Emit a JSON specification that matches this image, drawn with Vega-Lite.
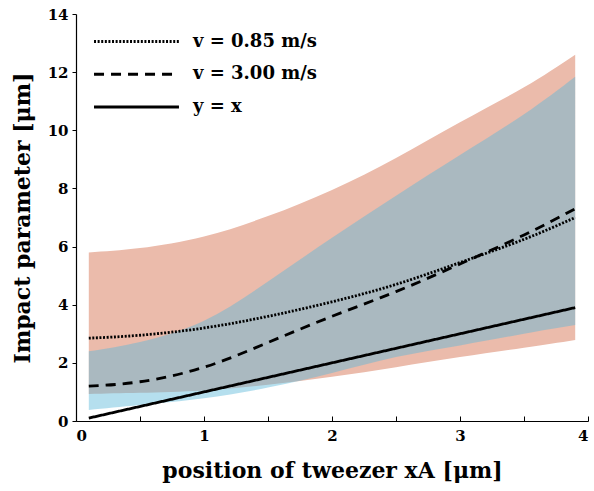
{
  "$schema": "https://vega.github.io/schema/vega-lite/v6.json",
  "width": 512,
  "height": 407,
  "autosize": {"type": "none"},
  "padding": {"left": 76, "top": 14, "right": 6, "bottom": 70},
  "background": "white",
  "config": {
    "view": {"stroke": null},
    "font": "DejaVu Serif",
    "axis": {
      "grid": false,
      "domainColor": "black",
      "domainWidth": 1.2,
      "tickColor": "black",
      "tickWidth": 1,
      "labelFont": "DejaVu Serif",
      "labelFontWeight": "bold",
      "labelFontSize": 15,
      "labelColor": "black",
      "titleFont": "DejaVu Serif",
      "titleFontWeight": "bold",
      "titleFontSize": 22,
      "titleColor": "black"
    },
    "legend": {
      "orient": "none",
      "legendX": 48,
      "legendY": 15,
      "padding": 0,
      "symbolType": "M-4,0L4,0",
      "symbolSize": 451,
      "symbolStrokeWidth": 2.8,
      "symbolStrokeColor": "black",
      "labelFont": "DejaVu Serif",
      "labelFontWeight": "bold",
      "labelFontSize": 18,
      "labelColor": "black",
      "labelOffset": 44,
      "rowPadding": 10.75,
      "labelLimit": 300
    }
  },
  "datasets": {
    "bands": [
      {"band": "v = 0.85 m/s", "x": 0.1, "lo": 0.93, "hi": 5.8},
      {"band": "v = 0.85 m/s", "x": 0.5, "lo": 0.97, "hi": 5.95},
      {"band": "v = 0.85 m/s", "x": 1.0, "lo": 1.05, "hi": 6.35},
      {"band": "v = 0.85 m/s", "x": 1.5, "lo": 1.25, "hi": 7.05},
      {"band": "v = 0.85 m/s", "x": 2.0, "lo": 1.52, "hi": 7.95},
      {"band": "v = 0.85 m/s", "x": 2.5, "lo": 1.85, "hi": 9.05},
      {"band": "v = 0.85 m/s", "x": 3.0, "lo": 2.2, "hi": 10.28},
      {"band": "v = 0.85 m/s", "x": 3.5, "lo": 2.52, "hi": 11.48},
      {"band": "v = 0.85 m/s", "x": 3.9, "lo": 2.79, "hi": 12.6},
      {"band": "v = 3.00 m/s", "x": 0.1, "lo": 0.38, "hi": 2.4},
      {"band": "v = 3.00 m/s", "x": 0.5, "lo": 0.55, "hi": 2.72},
      {"band": "v = 3.00 m/s", "x": 1.0, "lo": 0.78, "hi": 3.45},
      {"band": "v = 3.00 m/s", "x": 1.5, "lo": 1.15, "hi": 4.8},
      {"band": "v = 3.00 m/s", "x": 2.0, "lo": 1.65, "hi": 6.3},
      {"band": "v = 3.00 m/s", "x": 2.5, "lo": 2.2, "hi": 7.75},
      {"band": "v = 3.00 m/s", "x": 3.0, "lo": 2.6, "hi": 9.15},
      {"band": "v = 3.00 m/s", "x": 3.5, "lo": 3.0, "hi": 10.55},
      {"band": "v = 3.00 m/s", "x": 3.9, "lo": 3.3, "hi": 11.84}
    ],
    "lines": [
      {"series": "v = 0.85 m/s", "x": 0.1, "y": 2.85},
      {"series": "v = 0.85 m/s", "x": 0.5, "y": 2.95},
      {"series": "v = 0.85 m/s", "x": 1.0, "y": 3.2},
      {"series": "v = 0.85 m/s", "x": 1.5, "y": 3.6},
      {"series": "v = 0.85 m/s", "x": 2.0, "y": 4.1},
      {"series": "v = 0.85 m/s", "x": 2.5, "y": 4.7},
      {"series": "v = 0.85 m/s", "x": 3.0, "y": 5.45},
      {"series": "v = 0.85 m/s", "x": 3.5, "y": 6.25},
      {"series": "v = 0.85 m/s", "x": 3.9, "y": 7.0},
      {"series": "v = 3.00 m/s", "x": 0.1, "y": 1.2},
      {"series": "v = 3.00 m/s", "x": 0.5, "y": 1.35},
      {"series": "v = 3.00 m/s", "x": 1.0, "y": 1.85},
      {"series": "v = 3.00 m/s", "x": 1.5, "y": 2.7},
      {"series": "v = 3.00 m/s", "x": 2.0, "y": 3.6},
      {"series": "v = 3.00 m/s", "x": 2.5, "y": 4.45},
      {"series": "v = 3.00 m/s", "x": 3.0, "y": 5.4},
      {"series": "v = 3.00 m/s", "x": 3.5, "y": 6.4},
      {"series": "v = 3.00 m/s", "x": 3.9, "y": 7.3},
      {"series": "y = x", "x": 0.1, "y": 0.1},
      {"series": "y = x", "x": 3.9, "y": 3.9}
    ]
  },
  "layer": [
    {
      "data": {"name": "bands"},
      "transform": [{"filter": "datum.band === 'v = 0.85 m/s'"}],
      "mark": {"type": "area", "interpolate": "natural", "color": "#EBBBAB", "opacity": 1},
      "encoding": {
        "x": {"field": "x", "type": "quantitative", "scale": {"domain": [0, 4], "nice": false},
          "axis": {"values": [0, 0.5, 1, 1.5, 2, 2.5, 3, 3.5, 4], "labelExpr": "datum.value % 1 === 0 ? format(datum.value, 'd') : ''",
            "tickSize": -5, "labelPadding": 12, "title": "position of tweezer xA [μm]", "titlePadding": 17}},
        "y": {"field": "hi", "type": "quantitative", "scale": {"domain": [0, 14], "nice": false},
          "axis": {"values": [0, 2, 4, 6, 8, 10, 12, 14], "tickSize": 4, "labelPadding": 4, "title": "Impact parameter [μm]", "titlePadding": 13}},
        "y2": {"field": "lo"}
      }
    },
    {
      "data": {"name": "bands"},
      "transform": [{"filter": "datum.band === 'v = 3.00 m/s'"}],
      "mark": {"type": "area", "interpolate": "natural", "color": "#5BB8D9", "opacity": 0.45},
      "encoding": {
        "x": {"field": "x", "type": "quantitative"},
        "y": {"field": "hi", "type": "quantitative"},
        "y2": {"field": "lo"}
      }
    },
    {
      "data": {"name": "lines"},
      "mark": {"type": "line", "interpolate": "natural", "color": "black", "strokeWidth": 2.8},
      "encoding": {
        "x": {"field": "x", "type": "quantitative"},
        "y": {"field": "y", "type": "quantitative"},
        "strokeDash": {"field": "series", "type": "nominal",
          "scale": {"domain": ["v = 0.85 m/s", "v = 3.00 m/s", "y = x"], "range": [[2, 1.6], [10, 7], [1, 0]]},
          "legend": {"title": null}}
      }
    }
  ]
}
